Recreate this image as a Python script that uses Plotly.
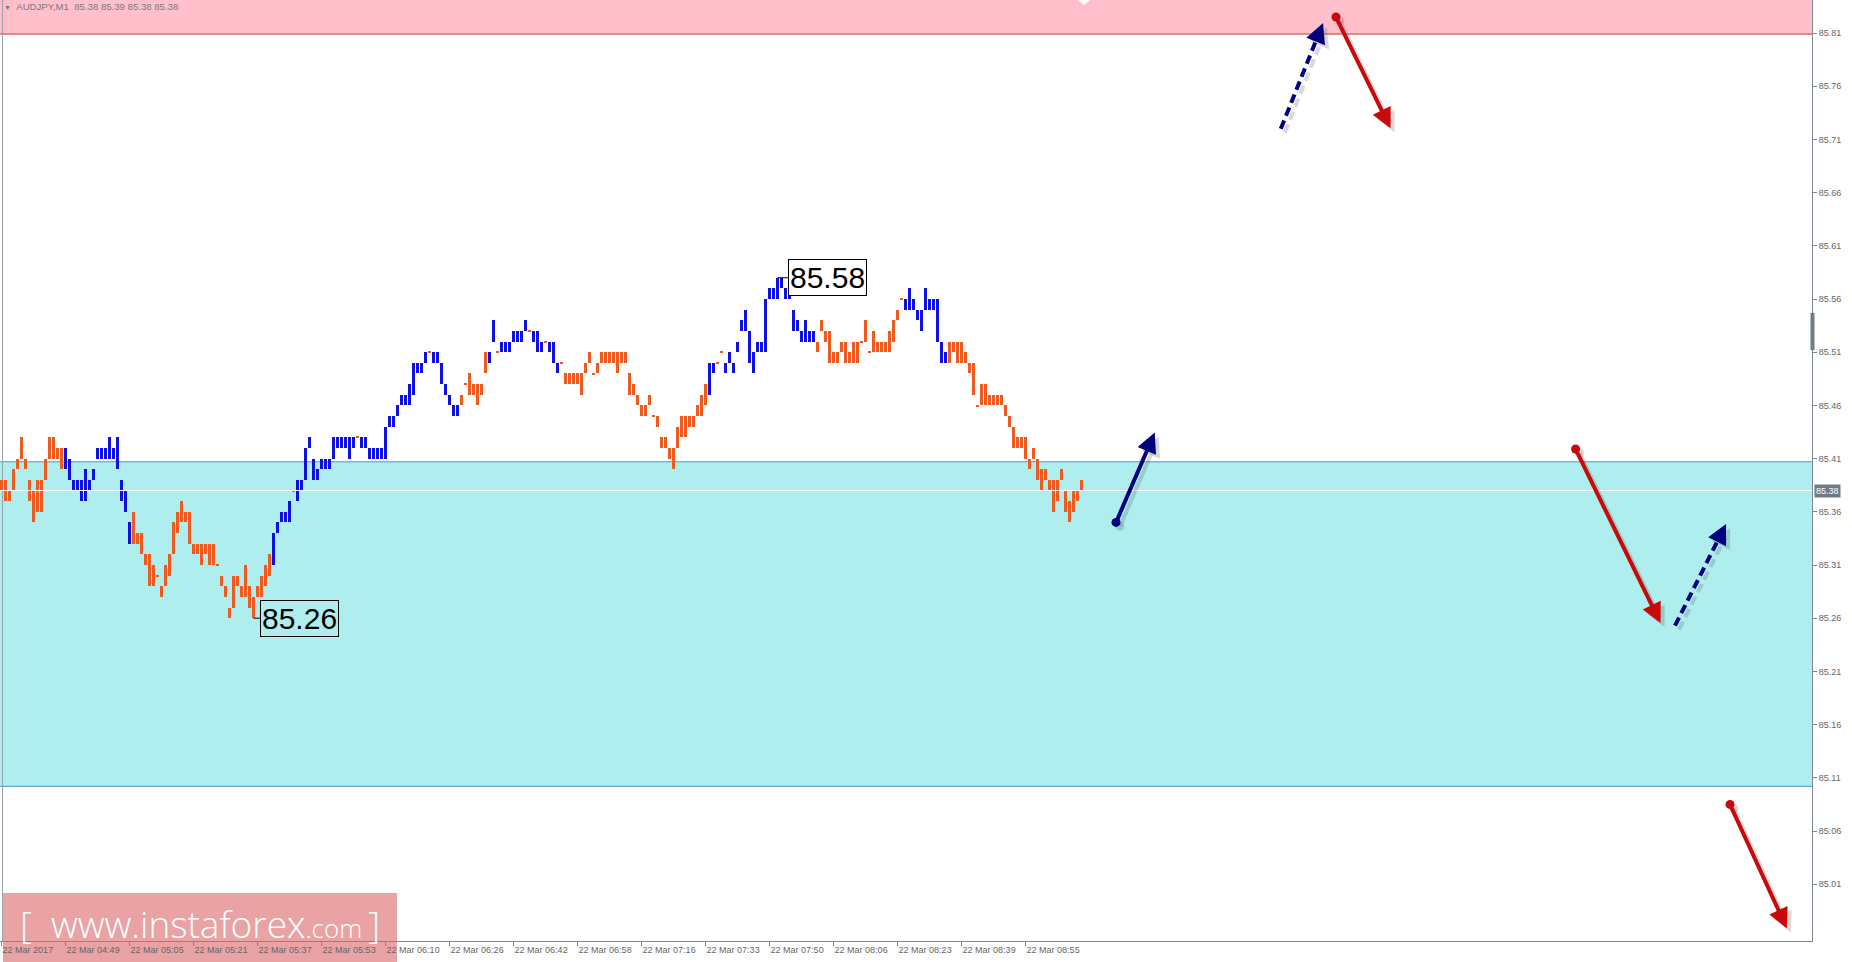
import math
import plotly.graph_objects as go

# ---------------- data ----------------
bar_high = [
    85.39, 85.39, 85.38, 85.40, 85.41, 85.43, 85.41, 85.39, 85.38, 85.39,
    85.39, 85.41, 85.43, 85.43, 85.42, 85.42, 85.42, 85.41, 85.39, 85.39,
    85.39, 85.40, 85.39, 85.40, 85.42, 85.42, 85.42, 85.43, 85.42, 85.43,
    85.39, 85.38, 85.35, 85.36, 85.34, 85.34, 85.32, 85.32, 85.31, 85.30,
    85.29, 85.31, 85.32, 85.35, 85.36, 85.37, 85.36, 85.36, 85.33, 85.33,
    85.33, 85.33, 85.33, 85.33, 85.31, 85.30, 85.29, 85.27, 85.30, 85.30,
    85.29, 85.31, 85.29, 85.28, 85.29, 85.30, 85.31, 85.32, 85.34, 85.35,
    85.36, 85.36, 85.37, 85.38, 85.39, 85.39, 85.42, 85.43, 85.41, 85.40,
    85.41, 85.41, 85.41, 85.43, 85.43, 85.43, 85.43, 85.43, 85.43, 85.43,
    85.43, 85.43, 85.42, 85.42, 85.42, 85.42, 85.44, 85.45, 85.45, 85.46,
    85.47, 85.47, 85.48, 85.50, 85.50, 85.50, 85.51, 85.51, 85.51, 85.51,
    85.50, 85.48, 85.47, 85.46, 85.46, 85.47, 85.48, 85.49, 85.48, 85.48,
    85.48, 85.51, 85.51, 85.54, 85.51, 85.52, 85.52, 85.52, 85.53, 85.53,
    85.53, 85.54, 85.53, 85.53, 85.53, 85.52, 85.52, 85.52, 85.52, 85.50,
    85.50, 85.49, 85.49, 85.49, 85.49, 85.49, 85.50, 85.51, 85.49, 85.50,
    85.51, 85.51, 85.51, 85.51, 85.51, 85.51, 85.51, 85.49, 85.48, 85.47,
    85.46, 85.46, 85.47, 85.45, 85.45, 85.43, 85.43, 85.42, 85.42, 85.44,
    85.45, 85.45, 85.45, 85.45, 85.46, 85.47, 85.48, 85.50, 85.50, 85.50,
    85.51, 85.50, 85.51, 85.50, 85.52, 85.54, 85.55, 85.53, 85.51, 85.52,
    85.52, 85.56, 85.57, 85.57, 85.58, 85.58, 85.57, 85.57, 85.55, 85.54,
    85.53, 85.54, 85.53, 85.53, 85.52, 85.54, 85.53, 85.53, 85.51, 85.51,
    85.52, 85.52, 85.51, 85.52, 85.52, 85.52, 85.54, 85.51, 85.53, 85.52,
    85.52, 85.52, 85.53, 85.54, 85.55, 85.56, 85.56, 85.57, 85.56, 85.55,
    85.55, 85.57, 85.56, 85.56, 85.56, 85.52, 85.51, 85.52, 85.52, 85.52,
    85.52, 85.51, 85.50, 85.50, 85.46, 85.48, 85.48, 85.47, 85.47, 85.47,
    85.47, 85.46, 85.45, 85.44, 85.43, 85.43, 85.43, 85.41, 85.42, 85.41,
    85.40, 85.40, 85.39, 85.39, 85.39, 85.40, 85.38, 85.37, 85.38, 85.38,
    85.39,
]
bar_low = [
    85.38, 85.37, 85.37, 85.38, 85.40, 85.41, 85.40, 85.37, 85.35, 85.36,
    85.36, 85.39, 85.41, 85.41, 85.41, 85.40, 85.40, 85.39, 85.38, 85.38,
    85.37, 85.37, 85.38, 85.39, 85.41, 85.41, 85.41, 85.41, 85.41, 85.40,
    85.37, 85.36, 85.33, 85.33, 85.33, 85.32, 85.31, 85.29, 85.29, 85.30,
    85.28, 85.29, 85.30, 85.32, 85.34, 85.35, 85.35, 85.33, 85.32, 85.32,
    85.31, 85.32, 85.31, 85.31, 85.31, 85.29, 85.28, 85.26, 85.27, 85.29,
    85.28, 85.28, 85.27, 85.26, 85.28, 85.28, 85.29, 85.30, 85.31, 85.34,
    85.35, 85.35, 85.35, 85.38, 85.37, 85.38, 85.39, 85.42, 85.39, 85.39,
    85.40, 85.40, 85.40, 85.41, 85.42, 85.42, 85.42, 85.41, 85.42, 85.43,
    85.42, 85.42, 85.41, 85.41, 85.41, 85.41, 85.41, 85.44, 85.44, 85.45,
    85.46, 85.46, 85.46, 85.47, 85.49, 85.49, 85.50, 85.51, 85.50, 85.50,
    85.48, 85.47, 85.46, 85.45, 85.45, 85.46, 85.48, 85.47, 85.47, 85.46,
    85.47, 85.49, 85.50, 85.52, 85.51, 85.51, 85.51, 85.51, 85.52, 85.52,
    85.52, 85.53, 85.53, 85.52, 85.51, 85.51, 85.52, 85.51, 85.50, 85.49,
    85.50, 85.48, 85.48, 85.48, 85.48, 85.47, 85.49, 85.50, 85.49, 85.49,
    85.50, 85.50, 85.50, 85.50, 85.49, 85.50, 85.50, 85.47, 85.47, 85.46,
    85.45, 85.45, 85.46, 85.45, 85.44, 85.42, 85.42, 85.41, 85.40, 85.42,
    85.43, 85.43, 85.44, 85.44, 85.45, 85.45, 85.46, 85.47, 85.49, 85.50,
    85.51, 85.49, 85.50, 85.49, 85.51, 85.53, 85.53, 85.50, 85.49, 85.51,
    85.51, 85.51, 85.56, 85.56, 85.56, 85.57, 85.56, 85.56, 85.53, 85.53,
    85.52, 85.52, 85.52, 85.52, 85.51, 85.53, 85.52, 85.50, 85.50, 85.50,
    85.51, 85.50, 85.50, 85.50, 85.50, 85.52, 85.52, 85.51, 85.51, 85.51,
    85.51, 85.51, 85.51, 85.52, 85.54, 85.56, 85.55, 85.55, 85.55, 85.54,
    85.53, 85.55, 85.55, 85.55, 85.52, 85.50, 85.50, 85.50, 85.51, 85.50,
    85.50, 85.50, 85.49, 85.47, 85.46, 85.46, 85.46, 85.46, 85.46, 85.46,
    85.46, 85.45, 85.44, 85.42, 85.42, 85.42, 85.41, 85.40, 85.41, 85.39,
    85.38, 85.39, 85.38, 85.36, 85.37, 85.39, 85.36, 85.35, 85.36, 85.37,
    85.38,
]
bar_dir = (
    "dddddddddddddddd"                          # 0-15
    "uuuuuuuuuuuuuuuuu"                         # 16-32
    "ddddddddddddddddddddddddddddddddddd"       # 33-67
    "uuuuu"                                     # 68-72
    "d"                                         # 73
    "uuuuuuuuuuuuuuu"                           # 74-88
    "d"                                         # 89
    "uuuuuuuuuuuuuuuuu"                         # 90-106
    "d"                                         # 107
    "uuuuuuu"                                   # 108-114
    "ddddddd"                                   # 115-121
    "uu"                                        # 122-123
    "d"                                         # 124
    "uuuuuuu"                                   # 125-131
    "d"                                         # 132
    "uuu"                                       # 133-135
    "d"                                         # 136
    "uuu"                                       # 137-139
    "ddddddddddddddddddddddddddddddddddddd"     # 140-176
    "uu"                                        # 177-178
    "dd"                                        # 179-180
    "uuuuuuuuuuuuuuuuuuuuuuu"                   # 181-203
    "dddddddddddddddddddddd"                    # 204-225
    "uuuuuuuuuuu"                               # 226-236
    "dddddddddddddddddddddddddddddddddd"        # 237-270
)
assert len(bar_dir) == len(bar_high) == len(bar_low), (len(bar_dir), len(bar_high), len(bar_low))

tick_index = [0, 16, 32, 48, 64, 80, 96, 112, 128, 144, 160, 176, 192, 208, 224, 240, 256]
tick_labels = ["22 Mar 2017", "22 Mar 04:49", "22 Mar 05:05", "22 Mar 05:21", "22 Mar 05:37",
               "22 Mar 05:53", "22 Mar 06:10", "22 Mar 06:26", "22 Mar 06:42", "22 Mar 06:58",
               "22 Mar 07:16", "22 Mar 07:33", "22 Mar 07:50", "22 Mar 08:06", "22 Mar 08:23",
               "22 Mar 08:39", "22 Mar 08:55"]
price_ticks = [85.01, 85.06, 85.11, 85.16, 85.21, 85.26, 85.31, 85.36, 85.41,
               85.46, 85.51, 85.56, 85.61, 85.66, 85.71, 85.76, 85.81]

resistance_zone = [85.809, 86.0]
support_zone = [85.102, 85.407]
current_price = 85.38
header_text = "AUDJPY,M1\u00a0\u00a085.38 85.39 85.38 85.38"

extreme_index = [194, 63]
extreme_price = [85.58, 85.26]
extreme_text = ["85.58", "85.26"]

# forecast arrows: start (bar index, price) -> end (bar index, price)
arrow_x0 = [319.8, 333.6, 278.6, 393.5, 418.35, 432.1]
arrow_y0 = [85.720, 85.825, 85.350, 85.419, 85.253, 85.085]
arrow_x1 = [330.85, 347.8, 288.8, 415.3, 431.7, 446.85]
arrow_y1 = [85.824, 85.716, 85.439, 85.251, 85.353, 84.964]
arrow_kind = ["up_dash", "down", "up", "down", "up_dash", "down"]

# ---------------- layout constants ----------------
FIG_W, FIG_H = 1852, 962
M_L, M_R, M_T, M_B = 0, 40, 0, 21
X_RANGE = [-0.4, 452.6]
Y_RANGE = [84.95662, 85.84102]
PLOT_W = FIG_W - M_L - M_R
PLOT_H = FIG_H - M_T - M_B
SX = PLOT_W / (X_RANGE[1] - X_RANGE[0])
SY = PLOT_H / (Y_RANGE[1] - Y_RANGE[0])

UP_COL = "#1010dc"
DN_COL = "#ef5a1e"
NAVY = "#00007f"
RED = "#c80a0a"
AXIS_COL = "#7d8894"
TXT_COL = "#666666"
FONT = "Liberation Sans"
DOJI_H = 0.0012

fig = go.Figure()

# bars
idx = list(range(len(bar_high)))
heights = [max(h - l, DOJI_H) for h, l in zip(bar_high, bar_low)]
bases = [l if h > l else l - DOJI_H / 2 for h, l in zip(bar_high, bar_low)]
colors = [UP_COL if d == "u" else DN_COL for d in bar_dir]
fig.add_trace(go.Bar(x=idx, y=heights, base=bases, width=0.75,
                     marker=dict(color=colors, line=dict(width=0)),
                     hoverinfo="skip"))

# current price line
fig.add_trace(go.Scatter(x=X_RANGE, y=[current_price, current_price], mode="lines",
                         line=dict(color="#ffffff", width=1), hoverinfo="skip"))

# arrows
HEAD_BACK = 16
HEAD_W = 4
HEAD_SIZE = 1.0
OVERSHOOT = 1.3 * HEAD_W * HEAD_SIZE
SHADOW_PX = 4
annotations = []


def arrow_geom(x0, y0, x1, y1, off):
    dxp = (x1 - x0) * SX
    dyp = -(y1 - y0) * SY
    L = math.hypot(dxp, dyp)
    ux, uy = dxp / L, dyp / L
    ox, oy = off / SX, -off / SY
    tx = x1 - ux * OVERSHOOT / SX + ox
    ty = y1 + uy * OVERSHOOT / SY + oy
    bx = x1 - ux * HEAD_BACK / SX + ox
    by = y1 + uy * HEAD_BACK / SY + oy
    return x0 + ox, y0 + oy, bx, by, tx, ty, ux, uy


for layer in ("shadow", "main"):
    for x0, y0, x1, y1, kind in zip(arrow_x0, arrow_y0, arrow_x1, arrow_y1, arrow_kind):
        off = SHADOW_PX if layer == "shadow" else 0
        sx0, sy0, bx, by, tx, ty, ux, uy = arrow_geom(x0, y0, x1, y1, off)
        if layer == "shadow":
            col = "rgba(80,80,80,0.22)"
        else:
            col = NAVY if kind.startswith("up") else RED
        dash = "9px,5px" if kind.endswith("dash") else "solid"
        fig.add_trace(go.Scatter(x=[sx0, bx], y=[sy0, by], mode="lines",
                                 line=dict(color=col, width=4, dash=dash),
                                 hoverinfo="skip", cliponaxis=False))
        if not kind.endswith("dash"):
            fig.add_trace(go.Scatter(x=[sx0], y=[sy0], mode="markers",
                                     marker=dict(color=col, size=9, line=dict(width=0)),
                                     hoverinfo="skip", cliponaxis=False))
        annotations.append(dict(x=tx, y=ty, xref="x", yref="y", text="", showarrow=True,
                                ax=-ux * (HEAD_BACK - OVERSHOOT), ay=-uy * (HEAD_BACK - OVERSHOOT),
                                arrowhead=2, arrowsize=HEAD_SIZE, arrowwidth=HEAD_W,
                                arrowcolor=col, standoff=0))

# extreme labels
for xi, yp, txt, shift, bg in zip(extreme_index, extreme_price, extreme_text, [50, 46],
                                  ["#ffffff", "rgba(0,0,0,0)"]):
    annotations.append(dict(x=xi, y=yp, xref="x", yref="y", text=txt, showarrow=True,
                            ax=shift, ay=0, arrowhead=0, arrowwidth=1, arrowcolor="#000000",
                            standoff=0, font=dict(family=FONT, size=30, color="#000000"),
                            bordercolor="#000000", borderwidth=1, borderpad=1, bgcolor=bg))

# current price tag on axis
annotations.append(dict(x=1, y=current_price, xref="paper", yref="y", xanchor="left",
                        xshift=2, text=f"{current_price:.2f}", showarrow=False,
                        bgcolor="#6f7b88", borderpad=1,
                        font=dict(family=FONT, size=9, color="#ffffff")))

# header
annotations.append(dict(x=2 / PLOT_W, y=1 - 7 / PLOT_H, xref="paper", yref="paper",
                        xanchor="left", yanchor="middle", showarrow=False,
                        text="<span style='font-size:7px'>\u25bc</span>\u00a0\u00a0" + header_text,
                        font=dict(family=FONT, size=9.6, color="#7a7a7a")))

# watermark text
annotations.append(dict(x=200 / PLOT_W, y=(PLOT_H - 923) / PLOT_H, xref="paper", yref="paper",
                        xanchor="center", yanchor="middle", showarrow=False,
                        text="[\u00a0\u00a0www.instaforex<span style='font-size:26px'>.com</span>\u2009]",
                        font=dict(family="Open Sans", size=37, color="#ffffff", weight=300)))

shapes = [
    # resistance zone
    dict(type="rect", xref="paper", yref="y", x0=0, x1=1, y0=resistance_zone[0], y1=resistance_zone[1],
         fillcolor="#ffc0cb", line=dict(width=0), layer="below"),
    dict(type="line", xref="paper", yref="y", x0=0, x1=1, y0=resistance_zone[0], y1=resistance_zone[0],
         line=dict(color="#cc3030", width=1), layer="below"),
    # support zone
    dict(type="rect", xref="paper", yref="y", x0=0, x1=1, y0=support_zone[0], y1=support_zone[1],
         fillcolor="#afeeee", line=dict(width=0), layer="below"),
    dict(type="line", xref="paper", yref="y", x0=0, x1=1, y0=support_zone[0], y1=support_zone[0],
         line=dict(color="#4696d2", width=1), layer="below"),
    dict(type="line", xref="paper", yref="y", x0=0, x1=1, y0=support_zone[1], y1=support_zone[1],
         line=dict(color="#4696d2", width=1), layer="below"),
    # left frame
    dict(type="line", xref="paper", yref="paper", x0=2.5 / PLOT_W, x1=2.5 / PLOT_W, y0=0, y1=1,
         line=dict(color="#9aa3ad", width=1), layer="below"),
    # axis shift marker
    dict(type="rect", xref="paper", yref="y", x0=1 - 1.5 / PLOT_W, x1=1 + 2.5 / PLOT_W,
         y0=85.512, y1=85.547, fillcolor="#6f7b88", line=dict(width=0), layer="above"),
    # chart shift triangle
    dict(type="path", xref="paper", yref="paper",
         path=f"M {1078/PLOT_W},1 L {1090/PLOT_W},1 L {1084/PLOT_W},{1-5/PLOT_H} Z",
         fillcolor="#ffffff", line=dict(width=0), layer="above"),
    # watermark box
    dict(type="rect", xref="paper", yref="paper", x0=3 / PLOT_W, x1=397 / PLOT_W,
         y0=(PLOT_H - 962) / PLOT_H, y1=(PLOT_H - 893) / PLOT_H,
         fillcolor="#e9a3a5", line=dict(width=0), layer="below"),
]

fig.update_layout(
    width=FIG_W, height=FIG_H,
    margin=dict(l=M_L, r=M_R, t=M_T, b=M_B, pad=0),
    paper_bgcolor="#ffffff", plot_bgcolor="#ffffff",
    showlegend=False, barmode="overlay", bargap=0,
    shapes=shapes, annotations=annotations,
    xaxis=dict(range=X_RANGE, showgrid=False, zeroline=False, showline=True,
               linecolor=AXIS_COL, linewidth=1, ticks="outside", ticklen=4, tickcolor=AXIS_COL,
               tickmode="array", tickvals=tick_index, ticktext=tick_labels,
               ticklabelposition="outside right",
               tickfont=dict(family=FONT, size=9, color=TXT_COL), fixedrange=True),
    yaxis=dict(range=Y_RANGE, side="right", showgrid=False, zeroline=False, showline=True,
               linecolor=AXIS_COL, linewidth=1, ticks="outside", ticklen=4, tickcolor=AXIS_COL,
               tickmode="array", tickvals=price_ticks, tickformat=".2f",
               tickfont=dict(family=FONT, size=9, color=TXT_COL), fixedrange=True),
)

fig.write_html("out.html", config={"displayModeBar": False},
               post_script="document.body.style.margin='0px';document.body.style.overflow='hidden';")
